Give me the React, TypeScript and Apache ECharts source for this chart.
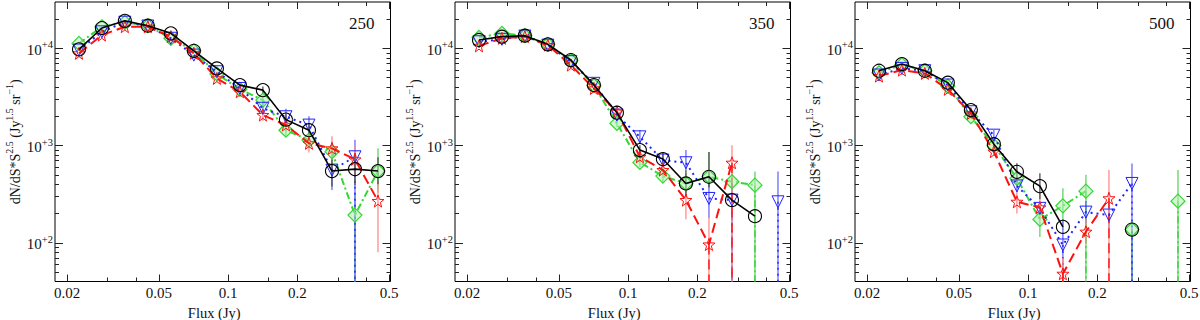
import React, { useEffect, useRef } from 'react';
import * as echarts from 'echarts';

type E = [number, number] | null;
const N = null;

// flux bin centres (Jy)
const FLUX = [0.0225, 0.0283, 0.0356, 0.0448, 0.0564, 0.071, 0.0894, 0.1125, 0.1416, 0.1783, 0.2245, 0.2826, 0.3557, 0.4478];

const X_MAJOR = [0.02, 0.05, 0.1, 0.2, 0.5];
const X_MINOR = [0.03, 0.04, 0.15, 0.3, 0.4];
const Y_MAJOR = [100, 1000, 10000];
const Y_MINOR = [50, 60, 70, 80, 90, 200, 300, 400, 500, 600, 700, 800, 900, 2000, 3000, 4000, 5000, 6000, 7000, 8000, 9000, 20000];
const PANEL_LABELS = ['250', '350', '500'];

// ---- 250 micron ----
const B250: (number | null)[] = [9770, 16200, 19200, 17100, 14300, 9450, 6220, 4190, 3720, 1850, 1440, 547, 573, 547];
const B250_ERR: E[] = [N, N, N, N, N, N, N, [3900, 4500], [3450, 4050], [1650, 2100], [1250, 1650], [380, 720], [390, 840], [400, 760]];
const R250: (number | null)[] = [8890, 13700, 16700, 16700, 13200, 8900, 4910, 3580, 2060, 1630, 1055, 936, 721, 269];
const R250_ERR: E[] = [N, N, N, N, N, N, [4500, 5400], [3250, 3900], [1800, 2350], [1400, 1900], [850, 1300], [700, 1250], [500, 1000], [80, 420]];
const U250: (number | null)[] = [9610, 14800, 18600, 17000, 12700, 8530, 5750, 3870, 2420, 1980, 1625, 560, 767, N];
const U250_ERR: E[] = [N, N, N, N, N, N, N, [3500, 4250], [2100, 2800], [1650, 2400], [1300, 2000], [350, 660], [0, 1150], N];
const G250: (number | null)[] = [11250, 16700, 18500, 17100, 12700, 9450, 5450, 3790, 2940, 1440, 1140, 864, 193, 547];
const G250_ERR: E[] = [N, N, N, N, N, N, N, [3400, 4200], [2600, 3350], [1250, 1700], [950, 1350], [620, 1100], [0, 330], [330, 940]];

// ---- 350 micron ----
const B350: (number | null)[] = [12200, 13200, 13500, 11000, 7590, 4200, 2180, 900, 727, 408, 478, 275, 188, N];
const B350_ERR: E[] = [N, N, N, N, N, N, [2000, 2400], [800, 1010], [620, 850], [300, 560], [370, 860], N, N, N];
const R350: (number | null)[] = [10600, 12700, 13200, 10800, 6730, 3870, 2230, 767, 560, 275, 96, 666, N, N];
const R350_ERR: E[] = [N, N, N, N, N, N, N, [680, 860], [470, 660], [175, 380], [0, 185], [0, 1010], N, N];
const U350: (number | null)[] = [11700, 12400, 13400, 10800, 7300, 4370, 2060, 1230, 710, 666, 286, 275, N, 264];
const U350_ERR: E[] = [N, N, N, N, N, N, N, [1050, 1450], [600, 840], [560, 900], [180, 420], [0, 400], N, [0, 540]];
const G350: (number | null)[] = [12980, 14270, 13500, 11000, 7500, 4150, 1690, 672, 486, 408, 478, 425, 392, N];
const G350_ERR: E[] = [N, N, N, N, N, N, [1550, 1850], [600, 760], [420, 560], [330, 520], [380, 860], [330, 560], [0, 540], N];

// ---- 500 micron ----
const B500: (number | null)[] = [5890, 6900, 5890, 4440, 2320, 1035, 538, 383, 146, N, N, 137, N, N];
const B500_ERR: E[] = [N, N, N, N, N, [920, 1150], [420, 660], [280, 520], N, N, N, N, N, N];
const R500: (number | null)[] = [5190, 5980, 5530, 3790, 2140, 866, 264, 231, 48, 130, 287, N, N, N];
const R500_ERR: E[] = [N, N, N, N, N, [780, 960], [200, 330], [171, 325], [0, 70], [100, 175], [0, 560], N, N, N];
const U500: (number | null)[] = [5320, 6220, 5890, 4200, 2230, 1280, 385, 226, 95, 207, 193, 408, N, N];
const U500_ERR: E[] = [N, N, N, N, N, [1100, 1450], [330, 450], N, [0, 175], [160, 270], [140, 260], [0, 656], N, N];
const G500: (number | null)[] = [5620, 6800, 5890, 4100, 1980, 1000, 460, 174, 240, 340, N, 137, N, 268];
const G500_ERR: E[] = [N, N, N, N, N, N, [390, 540], [115, 260], [136, 365], [0, 500], N, [0, 137], N, [0, 560]];

const PANELS = [
  { green: G250, greenErr: G250_ERR, blue: U250, blueErr: U250_ERR, red: R250, redErr: R250_ERR, black: B250, blackErr: B250_ERR },
  { green: G350, greenErr: G350_ERR, blue: U350, blueErr: U350_ERR, red: R350, redErr: R350_ERR, black: B350, blackErr: B350_ERR },
  { green: G500, greenErr: G500_ERR, blue: U500, blueErr: U500_ERR, red: R500, redErr: R500_ERR, black: B500, blackErr: B500_ERR },
];

const X_MIN = 0.0177;
const X_MAX = 0.5075;
const Y_MIN = 40;
const Y_MAX = 30000;
const GRID_LEFT = [55, 455, 855];
const GRID_W = 335.5;
const GRID_TOP = 2;
const GRID_H = 279.5;
const FONT = "'Liberation Serif', serif";

const STAR = 'path://M50 0L62 33L98 34L69 56L79 91L50 70L21 91L31 56L2 34L38 33Z';

const STYLES = [
  { key: 'green', color: '#33d633', err: '#62d262', dash: [7, 3, 2, 3] as number[] | null, symbol: 'diamond', size: 14, rotate: 0, fill: 'rgba(175,240,175,0.55)', width: 2, bw: 1.2 },
  { key: 'blue', color: '#2020ff', err: '#6a6aff', dash: [2, 4] as number[] | null, symbol: 'triangle', size: 12, rotate: 180, fill: 'rgba(0,0,0,0)', width: 2, bw: 1 },
  { key: 'red', color: '#ff1010', err: '#ff8c8c', dash: [10, 5] as number[] | null, symbol: STAR, size: 12, rotate: 0, fill: 'rgba(0,0,0,0)', width: 2, bw: 1 },
  { key: 'black', color: '#000000', err: '#505050', dash: null as number[] | null, symbol: 'circle', size: 13, rotate: 0, fill: 'rgba(0,0,0,0)', width: 1.6, bw: 1.1 },
];

const LABEL_STYLE = { fontFamily: FONT, fontSize: 15, fontWeight: 'normal', color: '#111' };
const NAME_STYLE = { fontFamily: FONT, fontSize: 14, fontWeight: 'normal', color: '#111' };

function xLabel(v: number): string {
  const t = X_MAJOR.find((m) => Math.abs(Math.log10(m) - Math.log10(v)) < 0.01);
  return t != null ? '{t|' + String(t) + '}' : '';
}
function yLabel(v: number): string {
  const e = Math.round(Math.log10(v));
  return '{b|10}{s|+' + e + '}';
}

function buildOption() {
  const grid: any[] = [];
  const xAxis: any[] = [];
  const yAxis: any[] = [];
  const series: any[] = [];
  const title: any[] = [];

  for (let p = 0; p < 3; p++) {
    grid.push({
      left: GRID_LEFT[p], top: GRID_TOP, width: GRID_W, height: GRID_H,
      containLabel: false, outerBoundsMode: 'none',
      show: true, borderColor: '#000', borderWidth: 1, backgroundColor: 'transparent',
    });
    const xBase = { type: 'log', gridIndex: p, min: X_MIN, max: X_MAX, axisLine: { show: false }, splitLine: { show: false } };
    const yBase = { type: 'log', gridIndex: p, min: Y_MIN, max: Y_MAX, axisLine: { show: false }, splitLine: { show: false } };
    xAxis.push({
      ...xBase, position: 'bottom',
      axisTick: { show: true, inside: true, length: 7, customValues: X_MAJOR, lineStyle: { color: '#222', width: 1 } },
      axisLabel: {
        show: true, customValues: X_MAJOR, formatter: xLabel, margin: 4, ...LABEL_STYLE,
        rich: { t: { ...LABEL_STYLE } },
      },
      name: '{t|Flux (Jy)}', nameLocation: 'middle', nameGap: 20,
      nameTextStyle: { ...NAME_STYLE, padding: [0, 17, 0, 0], rich: { t: { ...NAME_STYLE, fontSize: 14.5 } } },
    });
    xAxis.push({ ...xBase, position: 'bottom', axisTick: { show: true, inside: true, length: 4, customValues: X_MINOR, lineStyle: { color: '#222', width: 1 } }, axisLabel: { show: false } });
    xAxis.push({ ...xBase, position: 'top', axisTick: { show: true, inside: true, length: 7, customValues: X_MAJOR, lineStyle: { color: '#222', width: 1 } }, axisLabel: { show: false } });
    xAxis.push({ ...xBase, position: 'top', axisTick: { show: true, inside: true, length: 4, customValues: X_MINOR, lineStyle: { color: '#222', width: 1 } }, axisLabel: { show: false } });

    yAxis.push({
      ...yBase, position: 'left',
      axisTick: { show: true, inside: true, length: 8, customValues: Y_MAJOR, lineStyle: { color: '#222', width: 1 } },
      axisLabel: {
        show: true, customValues: Y_MAJOR, formatter: yLabel, margin: 2, ...LABEL_STYLE,
        rich: {
          b: { ...LABEL_STYLE, fontSize: 15, lineHeight: 18, verticalAlign: 'bottom' },
          s: { ...LABEL_STYLE, fontSize: 10.5, lineHeight: 12, verticalAlign: 'top' },
        },
      },
      name: '{n|dN/dS*S}{s|2.5}{n| (Jy}{s|1.5}{n| sr}{s|\u22121}{n|)}',
      nameLocation: 'middle', nameGap: 32,
      nameTextStyle: {
        ...NAME_STYLE,
        rich: {
          n: { ...NAME_STYLE, lineHeight: 18, verticalAlign: 'bottom' },
          s: { ...NAME_STYLE, fontSize: 10, lineHeight: 12, verticalAlign: 'top' },
        },
      },
    });
    yAxis.push({ ...yBase, position: 'left', axisTick: { show: true, inside: true, length: 4, customValues: Y_MINOR, lineStyle: { color: '#222', width: 1 } }, axisLabel: { show: false } });
    yAxis.push({ ...yBase, position: 'right', axisTick: { show: true, inside: true, length: 8, customValues: Y_MAJOR, lineStyle: { color: '#222', width: 1 } }, axisLabel: { show: false } });
    yAxis.push({ ...yBase, position: 'right', axisTick: { show: true, inside: true, length: 4, customValues: Y_MINOR, lineStyle: { color: '#222', width: 1 } }, axisLabel: { show: false } });

    title.push({
      text: PANEL_LABELS[p], left: GRID_LEFT[p] + 289, top: 10,
      textStyle: { fontFamily: FONT, fontSize: 17, fontWeight: 'normal', color: '#111' },
    });

    const panel: any = PANELS[p];
    STYLES.forEach((st, j) => {
      const vals: (number | null)[] = panel[st.key];
      const errs: E[] = panel[st.key + 'Err'];
      const errData: number[][] = [];
      FLUX.forEach((x, i) => {
        const e = errs[i];
        const v = vals[i];
        if (e && v != null) errData.push([x, v, e[0], e[1]]);
      });
      series.push({
        type: 'custom',
        xAxisIndex: 4 * p, yAxisIndex: 4 * p,
        silent: true, z: 1,
        data: errData,
        renderItem: (params: any, api: any) => {
          const x = api.value(0);
          const v = api.value(1);
          const lo = api.value(2);
          const hi = api.value(3);
          const toBottom = lo <= Y_MIN;
          const pLo = api.coord([x, toBottom ? Y_MIN : lo]);
          const pHi = api.coord([x, Math.min(hi, Y_MAX)]);
          const children: any[] = [
            { type: 'line', shape: { x1: pLo[0], y1: pLo[1], x2: pHi[0], y2: pHi[1] }, style: { stroke: st.err, lineWidth: 1.3 } },
          ];
          if (toBottom) {
            const pv = api.coord([x, v]);
            children.push({ type: 'line', shape: { x1: pv[0], y1: pv[1], x2: pv[0], y2: pLo[1] }, style: { stroke: st.color, lineWidth: 1.4, lineDash: st.dash || undefined } });
          }
          return { type: 'group', children };
        },
      });
      series.push({
        type: 'line',
        xAxisIndex: 4 * p, yAxisIndex: 4 * p,
        silent: true,
        z: 3 + j,
        data: FLUX.map((x, i) => [x, vals[i] == null ? '-' : vals[i]]),
        symbol: st.symbol,
        symbolSize: st.size,
        symbolRotate: st.rotate,
        showAllSymbol: true,
        lineStyle: { color: st.color, width: st.width, type: st.dash ? st.dash : 'solid' },
        itemStyle: { color: st.fill, borderColor: st.color, borderWidth: st.bw },
        emphasis: { disabled: true },
      });
    });
  }

  return {
    animation: false, backgroundColor: '#fff',
    textStyle: { fontFamily: FONT, fontSize: 14 },
    title, grid, xAxis, yAxis, series,
  };
}

export default function App() {
  const ref = useRef<HTMLDivElement>(null);
  useEffect(() => {
    if (!ref.current) return;
    const chart = echarts.init(ref.current, undefined, { renderer: 'svg' });
    chart.setOption(buildOption() as any);
    return () => chart.dispose();
  }, []);
  return <div ref={ref} style={{ position: 'absolute', left: 0, top: 0, width: 1200, height: 320 }} />;
}
